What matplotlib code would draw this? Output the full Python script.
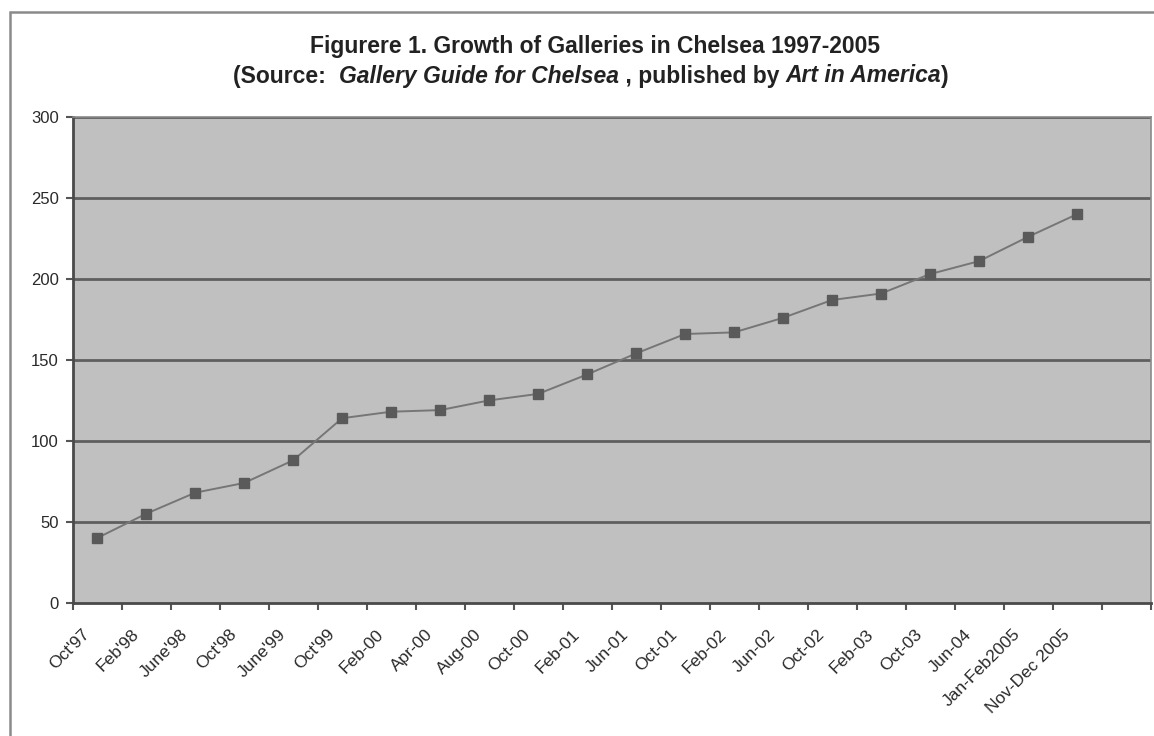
import numpy as np
import matplotlib.pyplot as plt
from matplotlib.patches import Rectangle
from matplotlib.transforms import ScaledTranslation

# Survey dates and number of galleries
dates = ["Oct'97", "Feb'98", "June'98", "Oct'98", "June'99", "Oct'99",
         "Feb-00", "Apr-00", "Aug-00", "Oct-00", "Feb-01", "Jun-01",
         "Oct-01", "Feb-02", "Jun-02", "Oct-02", "Feb-03", "Oct-03",
         "Jun-04", "Jan-Feb2005", "Nov-Dec 2005", ""]
galleries = [40, 55, 68, 74, 88, 114, 118, 119, 125, 129, 141, 154,
             166, 167, 176, 187, 191, 203, 211, 226, 240]
y_ticks = [0, 50, 100, 150, 200, 250, 300]

plt.rcParams['font.family'] = ['Liberation Sans', 'DejaVu Sans']

fig = plt.figure(figsize=(11.54, 7.36), dpi=100)
ax = fig.add_axes([0.063, 0.181, 0.934, 0.660])

# outer chart frame
fig.patches.append(Rectangle((10 / 1154, -0.01), 1.1, 1 - 12 / 736 + 0.01,
                             transform=fig.transFigure, fill=False,
                             edgecolor='#8a8a8a', linewidth=1.8))

ax.set_facecolor('#c0c0c0')
ax.plot(range(len(galleries)), galleries, color='#767676', linewidth=1.4,
        marker='s', markersize=6.5, markerfacecolor='#5a5a5a',
        markeredgecolor='#5a5a5a', zorder=3)

ax.set_xlim(-0.5, len(dates) - 0.5)
ax.set_ylim(0, 300)
ax.set_yticks(y_ticks)
for v in y_ticks[1:]:
    ax.axhline(v, color='#5f5f5f', linewidth=2, zorder=1)

# tick marks between categories, labels at category centres
ax.set_xticks(np.arange(len(dates) + 1) - 0.5)
ax.set_xticklabels([])
ax.set_xticks(np.arange(len(dates)), dates, minor=True)
ax.tick_params(axis='x', which='major', length=5, width=1.5, color='#555555')
ax.tick_params(axis='x', which='minor', length=0, pad=0, labelsize=12.5,
               labelcolor='#2a2a2a')
shift = ScaledTranslation(-10 / 100, -29 / 100, fig.dpi_scale_trans)
for lab in ax.get_xticklabels(minor=True):
    lab.set_rotation(45)
    lab.set_ha('right')
    lab.set_va('center')
    lab.set_rotation_mode('anchor')
    lab.set_transform(lab.get_transform() + shift)
ax.tick_params(axis='y', length=5, width=1.5, color='#555555', pad=5,
               labelsize=12, labelcolor='#2a2a2a')

for side in ['left', 'bottom']:
    ax.spines[side].set_color('#4a4a4a')
    ax.spines[side].set_linewidth(2)
for side in ['top', 'right']:
    ax.spines[side].set_color('#8a8a8a')
    ax.spines[side].set_linewidth(1.2)

# title, two lines, second one with italic parts
fig.text(0.516, 1 - 46 / 736, 'Figurere 1. Growth of Galleries in Chelsea 1997-2005',
         ha='center', va='center', fontsize=16.5, fontweight='bold', color='#222222')

parts = [('(Source:  ', 'normal'), ('Gallery Guide for Chelsea', 'italic'),
         (' , published by ', 'normal'), ('Art in America', 'italic'), (')', 'normal')]
renderer = fig.canvas.get_renderer()
objs = []
for txt, style in parts:
    t = fig.text(0, 1 - 76 / 736, txt, ha='left', va='center', fontsize=16.5,
                 fontweight='bold', fontstyle=style, color='#222222')
    objs.append(t)
widths = [o.get_window_extent(renderer).width / fig.bbox.width for o in objs]
x = 0.512 - sum(widths) / 2
for o, w in zip(objs, widths):
    o.set_x(x)
    x += w

fig.savefig('out.png', dpi=100)
